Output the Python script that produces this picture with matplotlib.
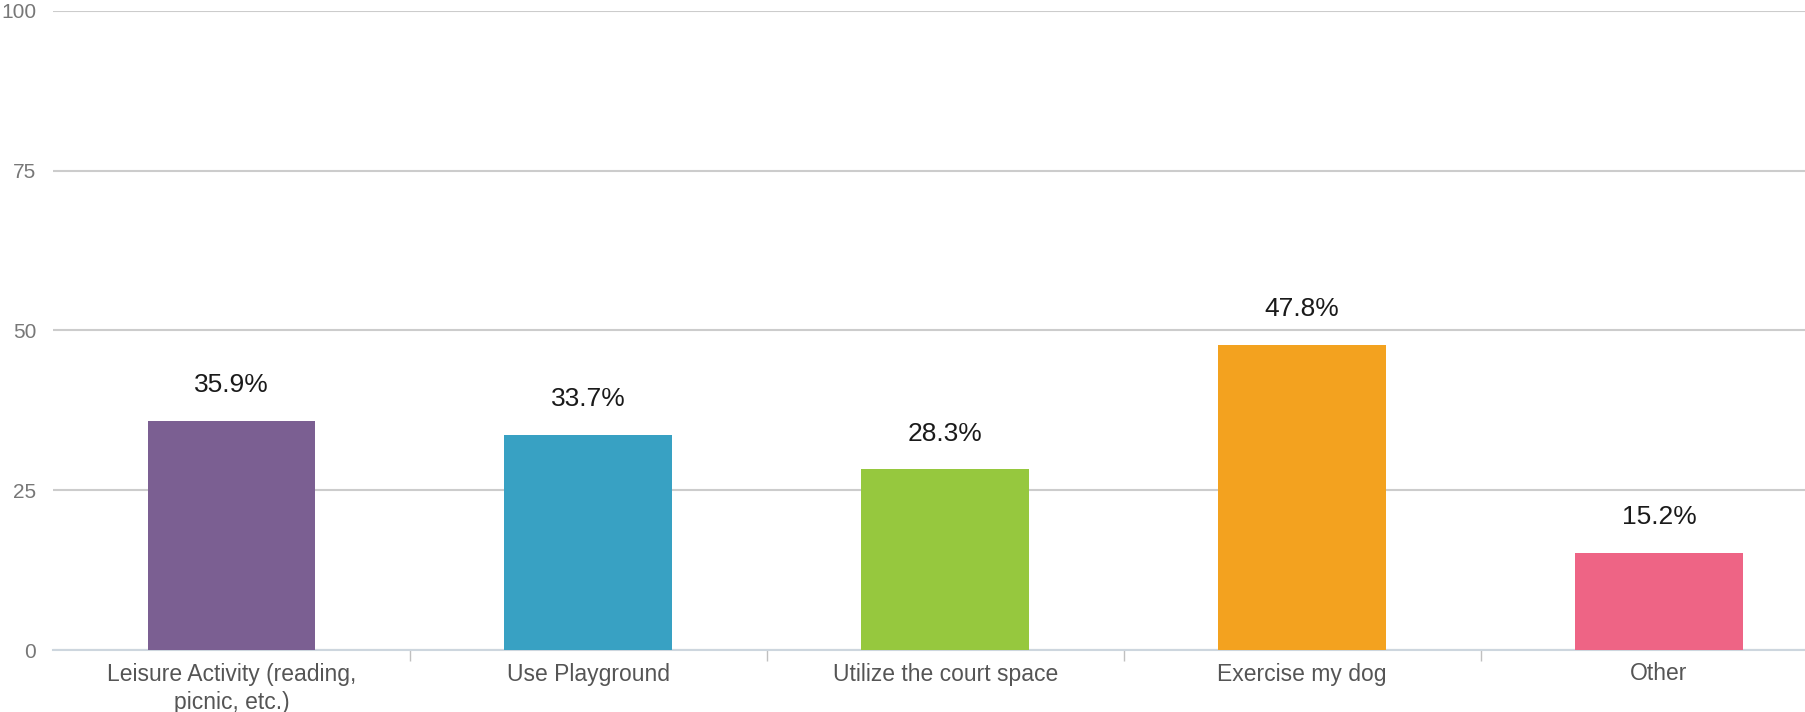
import matplotlib.pyplot as plt
import numpy as np

plt.rcParams['font.family'] = ['Liberation Sans', 'DejaVu Sans']

# Données du graphique
categories = ["Leisure Activity (reading,\npicnic, etc.)", "Use Playground",
              "Utilize the court space", "Exercise my dog", "Other"]
values = [35.9, 33.7, 28.3, 47.8, 15.2]
colors = ["#7b5f92", "#38a1c3", "#96c83e", "#f3a21f", "#ee6485"]
y_ticks = [0, 25, 50, 75, 100]

W, H = 1806, 712
fig = plt.figure(figsize=(W / 100, H / 100), dpi=100)
ax = fig.add_axes([53 / W, 62 / H, 1 - 53 / W, (650 - 11) / H])

x = np.arange(len(categories))
ax.bar(x, values, width=0.47, color=colors, zorder=3)

# Étiquettes de valeurs
for xi, v in zip(x, values):
    ax.annotate(f"{v}%", (xi, v), xytext=(0, 17), textcoords='offset points',
                ha='center', va='bottom', fontsize=19, color='#1a1a1a')

ax.set_ylim(0, 100)
ax.set_xlim(-0.5, (W - 231) / 357)
ax.set_yticks(y_ticks)
ax.set_yticklabels([str(t) for t in y_ticks], fontsize=15, color='#777777')
ax.grid(axis='y', color='#cccccc', linewidth=1.5, zorder=0)
ax.tick_params(axis='y', length=0, pad=12)

ax.set_xticks(x)
ax.set_xticklabels(categories, fontsize=16.5, color='#555555', linespacing=1.3)
ax.tick_params(axis='x', which='major', length=0, pad=9)
ax.set_xticks(x[:-1] + 0.5, minor=True)
ax.tick_params(axis='x', which='minor', length=8, color='#c0c0c0', width=1)

for s in ['top', 'right', 'left']:
    ax.spines[s].set_visible(False)
ax.spines['bottom'].set_color('#cdd6de')
ax.spines['bottom'].set_linewidth(1.5)

fig.savefig('out.png', dpi=100)
